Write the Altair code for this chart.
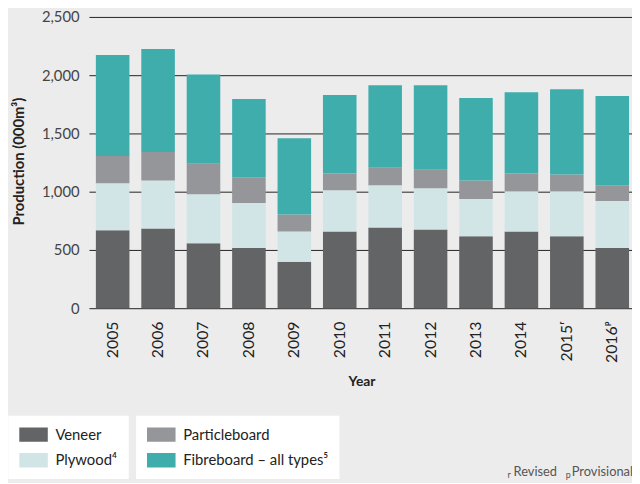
import altair as alt
import pandas as pd

years = ["2005", "2006", "2007", "2008", "2009", "2010", "2011", "2012", "2013", "2014", "2015ʳ", "2016ᵖ"]
veneer = [668, 684, 558, 516, 398, 659, 693, 676, 617, 659, 617, 516]
plywood = [404, 413, 421, 387, 261, 354, 362, 353, 320, 345, 387, 404]
particle = [235, 244, 261, 222, 146, 143, 151, 160, 160, 152, 143, 135]
fibre = [867, 884, 766, 670, 654, 673, 707, 724, 707, 698, 733, 766]

series_a = ["Veneer", "Plywood⁴"]
series_b = ["Particleboard", "Fibreboard – all types⁵"]
colors_a = ["#636466", "#d1e4e6"]
colors_b = ["#959699", "#40adad"]
y_ticks = [0, 500, 1000, 1500, 2000, 2500]
note_marks = ["r", "p"]
note_texts = ["Revised", "Provisional"]

rows = []
for i, yr in enumerate(years):
    base = 0
    for name, vals, grp in [(series_a[0], veneer, "A"), (series_a[1], plywood, "A"),
                            (series_b[0], particle, "B"), (series_b[1], fibre, "B")]:
        rows.append(dict(year=yr, series=name, group=grp, y0=base, y1=base + vals[i]))
        base += vals[i]
df = pd.DataFrame(rows)

FONT = "Lato"

x_enc = alt.X(
    "year:N", sort=years,
    scale=alt.Scale(domain=years, range=[0, 554], paddingInner=0.2609, paddingOuter=0.1522),
    axis=alt.Axis(title="Year", titleFontWeight="bold", titleFontSize=14, titleColor="#222",
                  titleX=276, titleY=74, titleBaseline="middle", titleAlign="center",
                  labelAngle=270, labelAlign="right", labelBaseline="middle", labelPadding=13,
                  labelFontSize=16, labelColor="#222", ticks=False, domain=False, grid=False),
)
y_enc = alt.Y(
    "y0:Q",
    scale=alt.Scale(domain=[0, 2500], nice=False),
    axis=alt.Axis(title="Production (000m³)", values=y_ticks, format=",.0f", labelFontSize=15,
                  labelColor="#444", labelPadding=10, ticks=False, domain=False, grid=True,
                  gridColor="#222", gridWidth=1, titleFontSize=15, titleFontWeight="bold",
                  titleColor="#222", titleX=-71.7, titleY=146, titleAngle=270,
                  titleBaseline="middle", titleAlign="center"),
)

def legend(x):
    return alt.Legend(title=None, orient="none", legendX=x, legendY=404, direction="vertical",
                      fillColor="white", padding=11, symbolType="M-1,-0.5H1V0.5H-1Z",
                      symbolSize=841, symbolStrokeWidth=0, symbolOpacity=1, clipHeight=16,
                      rowPadding=10, labelOffset=7.7, labelFont=FONT, labelFontSize=15,
                      labelColor="#222", labelLimit=300)

base = alt.Chart(df).mark_bar().encode(x=x_enc, y=y_enc, y2="y1:Q")

layer_a = base.transform_filter(alt.FieldEqualPredicate(field="group", equal="A")).encode(
    fill=alt.Fill("series:N", scale=alt.Scale(domain=series_a, range=colors_a), legend=legend(-81.7))
)
layer_b = base.transform_filter(alt.FieldEqualPredicate(field="group", equal="B")).encode(
    fill=alt.Fill("series:N", scale=alt.Scale(domain=series_b, range=colors_b), legend=legend(47.7))
)

notes_small = alt.Chart(pd.DataFrame({"t": note_marks, "xp": [424, 483]})).mark_text(
    align="left", baseline="alphabetic", fontSize=9, color="#555", font=FONT
).encode(text="t:N", x=alt.X("xp:Q", scale=None), y=alt.value(467))
notes_big = alt.Chart(pd.DataFrame({"t": note_texts, "xp": [430, 489]})).mark_text(
    align="left", baseline="alphabetic", fontSize=13, color="#555", font=FONT
).encode(text="t:N", x=alt.X("xp:Q", scale=None), y=alt.value(465))

chart = alt.layer(layer_a, layer_b, notes_small, notes_big).resolve_scale(
    fill="independent", x="shared"
).properties(
    width=550, height=295,
    autosize=alt.AutoSizeParams(type="none"),
    padding={"left": 82, "top": 6, "right": 0, "bottom": 174},
    background="#ececec",
).configure(font=FONT).configure_view(stroke=None)

chart.save("out.html", embed_options={"renderer": "svg", "actions": False})
